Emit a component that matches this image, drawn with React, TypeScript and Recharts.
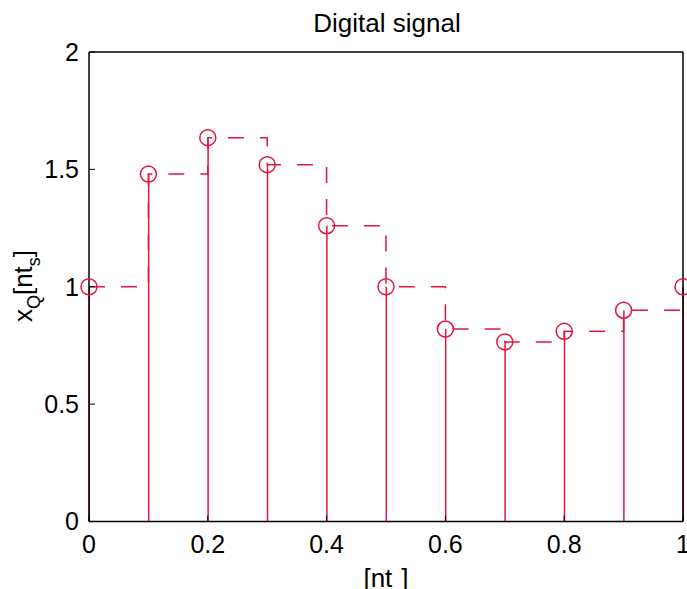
import React from "react";
import { ComposedChart, Bar, Line, XAxis, YAxis } from "recharts";

const tValues = [0, 0.1, 0.2, 0.3, 0.4, 0.5, 0.6, 0.7, 0.8, 0.9, 1.0];
const xQValues = [1.0, 1.48, 1.635, 1.52, 1.26, 1.0, 0.82, 0.765, 0.81, 0.9, 1.0];
const xTicks = [0, 0.2, 0.4, 0.6, 0.8, 1];
const yTicks = [0, 0.5, 1, 1.5, 2];

const data = tValues.map((t, i) => ({ t, v: xQValues[i] }));

const RED = "#E31640";
const FONT = "'Liberation Sans', Arial, Helvetica, sans-serif";

const Stem = (props: any) => {
  const { x, y, width, height } = props;
  if (x == null || y == null) return null;
  const cx = x + width / 2;
  return <line x1={cx} x2={cx} y1={y} y2={y + height} stroke={RED} strokeWidth={1.5} />;
};

const axisLine = { stroke: "#000", strokeWidth: 1.5 };
const tickLine = { stroke: "#000", strokeWidth: 1 };
const tickStyle = { fill: "#000", fontSize: 25, fontFamily: FONT };

export default function App() {
  return (
    <div style={{ position: "absolute", left: 0, top: 0, width: 687, height: 589, background: "#fff" }}>
      <ComposedChart
        width={687}
        height={589}
        data={data}
        margin={{ top: 51, right: 3, bottom: 27.5, left: 29 }}
      >
        <XAxis
          xAxisId="b"
          type="number"
          dataKey="t"
          domain={[0, 1]}
          ticks={xTicks}
          height={40}
          tickSize={-6}
          tickMargin={20}
          axisLine={axisLine}
          tickLine={tickLine}
          tick={tickStyle}
          interval={0}
        />
        <XAxis
          xAxisId="top"
          orientation="top"
          type="number"
          dataKey="t"
          domain={[0, 1]}
          ticks={xTicks}
          height={1}
          tickSize={-6}
          axisLine={axisLine}
          tickLine={tickLine}
          tick={false}
        />
        <YAxis
          yAxisId="l"
          type="number"
          domain={[0, 2]}
          ticks={yTicks}
          width={60}
          tickSize={-6}
          tickMargin={16}
          axisLine={axisLine}
          tickLine={tickLine}
          tick={tickStyle}
          interval={0}
        />
        <YAxis
          yAxisId="r"
          orientation="right"
          type="number"
          domain={[0, 2]}
          ticks={yTicks}
          width={1}
          tickSize={-6}
          axisLine={axisLine}
          tickLine={tickLine}
          tick={false}
        />
        <Bar
          xAxisId="b"
          yAxisId="l"
          dataKey="v"
          barSize={2}
          shape={<Stem />}
          isAnimationActive={false}
        />
        <Line
          xAxisId="b"
          yAxisId="l"
          type="stepAfter"
          dataKey="v"
          stroke={RED}
          strokeWidth={1.5}
          strokeDasharray="16 16"
          dot={{ r: 8, fill: "none", stroke: RED, strokeWidth: 1.5, strokeDasharray: "none" }}
          activeDot={false}
          isAnimationActive={false}
        />
      </ComposedChart>
      <svg
        width={687}
        height={589}
        style={{ position: "absolute", left: 0, top: 0, pointerEvents: "none" }}
      >
        <text x={387} y={32} textAnchor="middle" fontSize={26} fontFamily={FONT} fill="#000">
          Digital signal
        </text>
        <text x={386} y={587} textAnchor="middle" fontSize={26} fontFamily={FONT} fill="#000">
          <tspan>[nt</tspan>
          <tspan fontSize={18} dy={12}>s</tspan>
          <tspan dy={-12}>]</tspan>
        </text>
        <text
          x={286}
          y={0}
          textAnchor="middle"
          fontSize={26}
          fontFamily={FONT}
          fill="#000"
          transform="translate(32, 572) rotate(-90)"
        >
          <tspan>x</tspan>
          <tspan fontSize={18} dy={8}>Q</tspan>
          <tspan dy={-8}>[nt</tspan>
          <tspan fontSize={18} dy={8}>s</tspan>
          <tspan dy={-8}>]</tspan>
        </text>
      </svg>
    </div>
  );
}
